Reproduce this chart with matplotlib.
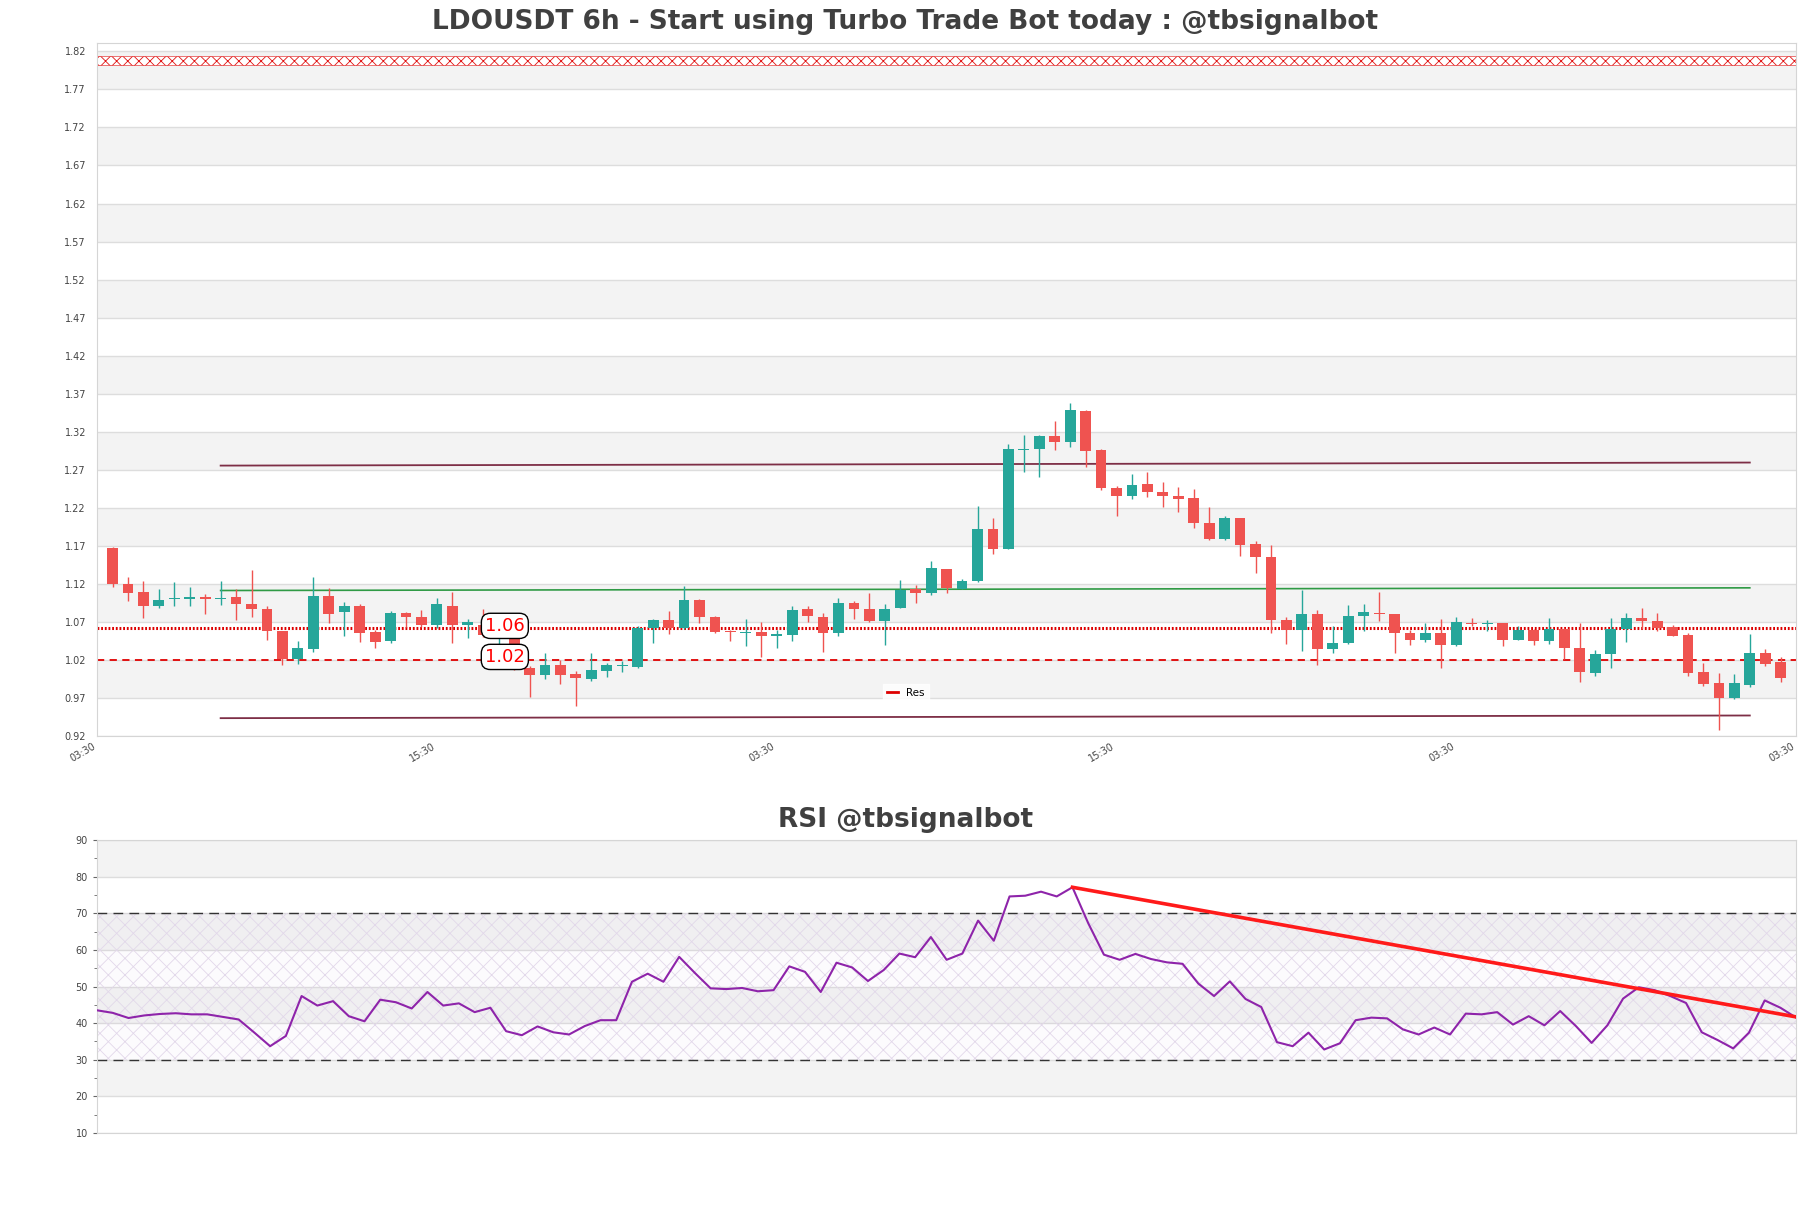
import numpy as np
import matplotlib.pyplot as plt
from matplotlib.lines import Line2D

plt.rcParams['font.family'] = ['DejaVu Sans']
plt.rcParams['hatch.linewidth'] = 0.6

# 6h candles, oldest first
opens = [1.167, 1.120, 1.109, 1.091, 1.100, 1.100, 1.103, 1.100, 1.103, 1.094,
         1.0875, 1.058, 1.0215, 1.035, 1.104, 1.083, 1.091, 1.0566, 1.045, 1.082,
         1.077, 1.0655, 1.0915, 1.0655, 1.066, 1.052, 1.058, 1.010, 1.0005, 1.0134,
         1.0015, 0.995, 1.006, 1.012, 1.011, 1.062, 1.073, 1.062, 1.0994, 1.0765,
         1.0584, 1.056, 1.057, 1.052, 1.053, 1.0875, 1.0765, 1.055, 1.0955, 1.0875,
         1.0707, 1.0884, 1.113, 1.1078, 1.139, 1.1138, 1.1235, 1.1915, 1.1656, 1.2955,
         1.2968, 1.3143, 1.3064, 1.3472, 1.2954, 1.2467, 1.2353, 1.2507, 1.241, 1.2358,
         1.2332, 1.2003, 1.1788, 1.206, 1.173, 1.156, 1.0726, 1.059, 1.081, 1.034,
         1.042, 1.0775, 1.0818, 1.081, 1.056, 1.0468, 1.056, 1.0393, 1.069, 1.067,
         1.069, 1.0468, 1.0597, 1.0443, 1.061, 1.0354, 1.0028, 1.0284, 1.061, 1.0756,
         1.0712, 1.0632, 1.0531, 1.0037, 0.9896, 0.9702, 0.9873, 1.0293, 1.0173]
highs = [1.169, 1.129, 1.124, 1.113, 1.123, 1.116, 1.107, 1.124, 1.113, 1.138,
         1.091, 1.058, 1.045, 1.129, 1.114, 1.096, 1.094, 1.060, 1.084, 1.083,
         1.086, 1.102, 1.109, 1.074, 1.087, 1.062, 1.060, 1.012, 1.029, 1.020,
         1.005, 1.029, 1.0156, 1.019, 1.0646, 1.074, 1.084, 1.1175, 1.1007, 1.078,
         1.059, 1.0743, 1.070, 1.060, 1.091, 1.091, 1.0822, 1.102, 1.0976, 1.1074,
         1.094, 1.125, 1.1184, 1.150, 1.140, 1.127, 1.223, 1.206, 1.3033, 1.3152,
         1.3156, 1.3336, 1.3573, 1.348, 1.297, 1.249, 1.264, 1.2674, 1.2542, 1.2476,
         1.245, 1.2213, 1.209, 1.207, 1.176, 1.1713, 1.0766, 1.1117, 1.0853, 1.065,
         1.0928, 1.094, 1.109, 1.081, 1.060, 1.0687, 1.074, 1.0766, 1.0748, 1.073,
         1.069, 1.065, 1.061, 1.0756, 1.062, 1.0685, 1.0332, 1.0756, 1.0818, 1.0888,
         1.0818, 1.0654, 1.0557, 1.016, 1.0028, 1.0015, 1.0544, 1.0346, 1.0244]
lows = [1.116, 1.098, 1.075, 1.088, 1.091, 1.091, 1.081, 1.092, 1.072, 1.077,
        1.046, 1.014, 1.015, 1.030, 1.069, 1.052, 1.043, 1.036, 1.042, 1.063,
        1.063, 1.062, 1.042, 1.049, 1.050, 1.040, 1.007, 0.9715, 0.995, 0.989,
        0.9596, 0.992, 0.998, 1.0037, 1.0094, 1.042, 1.0535, 1.061, 1.068, 1.0557,
        1.0443, 1.039, 1.0235, 1.036, 1.0443, 1.0694, 1.031, 1.052, 1.0734, 1.070,
        1.0403, 1.088, 1.095, 1.105, 1.108, 1.113, 1.122, 1.159, 1.1656, 1.267,
        1.2603, 1.2959, 1.300, 1.274, 1.2432, 1.209, 1.231, 1.2336, 1.2209, 1.2147,
        1.1932, 1.1775, 1.178, 1.1564, 1.1345, 1.0555, 1.041, 1.0314, 1.013, 1.0288,
        1.041, 1.0577, 1.0718, 1.0288, 1.040, 1.0432, 1.009, 1.038, 1.0647, 1.058,
        1.039, 1.046, 1.0403, 1.0412, 1.0213, 0.9904, 0.9984, 1.0098, 1.0434, 1.061,
        1.058, 1.051, 0.9993, 0.986, 0.9278, 0.969, 0.985, 1.0125, 0.9904]
closes = [1.120, 1.108, 1.091, 1.099, 1.102, 1.103, 1.100, 1.101, 1.093, 1.087,
          1.0575, 1.021, 1.036, 1.104, 1.081, 1.091, 1.056, 1.044, 1.082, 1.076,
          1.0655, 1.093, 1.0655, 1.070, 1.053, 1.058, 1.009, 1.0005, 1.0134, 1.0005,
          0.9966, 1.007, 1.0134, 1.014, 1.062, 1.073, 1.062, 1.0994, 1.076, 1.0566,
          1.0562, 1.057, 1.052, 1.0544, 1.086, 1.0774, 1.055, 1.0955, 1.0866, 1.0707,
          1.0875, 1.1118, 1.108, 1.1404, 1.114, 1.1244, 1.1915, 1.1656, 1.2968, 1.297,
          1.3143, 1.3064, 1.348, 1.2946, 1.2454, 1.2353, 1.2494, 1.2406, 1.2353, 1.231,
          1.1998, 1.1788, 1.2068, 1.1709, 1.155, 1.0722, 1.059, 1.081, 1.034, 1.0428,
          1.0783, 1.0832, 1.080, 1.056, 1.0468, 1.056, 1.0393, 1.0696, 1.067, 1.069,
          1.0468, 1.0597, 1.0443, 1.061, 1.0354, 1.0046, 1.028, 1.061, 1.0756, 1.0707,
          1.0623, 1.0518, 1.0028, 0.9887, 0.9702, 0.9896, 1.0293, 1.0151, 0.9966]

rsi = [43.5, 42.8, 41.4, 42.1, 42.5, 42.7, 42.4, 42.4, 41.7, 41.0,
       37.4, 33.7, 36.5, 47.4, 44.8, 46.0, 41.9, 40.5, 46.4, 45.7,
       44.0, 48.5, 44.8, 45.4, 43.0, 44.2, 37.8, 36.7, 39.1, 37.5,
       36.9, 39.2, 40.8, 40.8, 51.3, 53.5, 51.3, 58.1, 53.7, 49.5,
       49.3, 49.6, 48.7, 49.0, 55.5, 54.0, 48.5, 56.5, 55.2, 51.5,
       54.5, 59.0, 58.0, 63.5, 57.3, 59.0, 68.0, 62.5, 74.6, 74.8,
       75.9, 74.6, 77.1, 67.3, 58.7, 57.3, 58.9, 57.5, 56.6, 56.2,
       50.8, 47.4, 51.4, 46.6, 44.4, 34.8, 33.7, 37.4, 32.8, 34.5,
       40.8, 41.5, 41.3, 38.3, 36.9, 38.8, 36.9, 42.6, 42.4, 43.0,
       39.6, 41.9, 39.4, 43.3, 39.2, 34.6, 39.4, 46.7, 49.8, 49.0,
       47.4, 45.5, 37.5, 35.4, 33.1, 37.4, 46.2, 44.2, 41.5]

x_tick_labels = ['03:30', '15:30', '03:30', '15:30', '03:30', '03:30']

res_level = 1.062
sup_level = 1.02
res_label = '1.06'
sup_label = '1.02'
zone_low, zone_high = 1.8015, 1.8135

channel_x = [7, 106]
upper_y = [1.2755, 1.2795]
middle_y = [1.1113, 1.1148]
lower_y = [0.9435, 0.947]

trend_x = [62, 108]
trend_y = [77.1, 41.7]

title = 'LDOUSDT 6h - Start using Turbo Trade Bot today : @tbsignalbot'
rsi_title = 'RSI @tbsignalbot'

UP = '#26a69a'
DOWN = '#ef5350'
BAND = '#f3f3f3'
GRID = '#dddddd'
TXT = '#444444'

o = np.array(opens)
h = np.array(highs)
l = np.array(lows)
c = np.array(closes)
n = len(c)
idx = np.arange(n)
colors = np.where(c >= o, UP, DOWN)

fig = plt.figure(figsize=(18.11, 12.08), dpi=100)

# ---- price panel ----
ax = fig.add_axes([0.0536, 0.3907, 0.9382, 0.5737])
ax.set_xlim(-1, n)
ax.set_ylim(0.92, 1.831)
yt = np.round(np.arange(0.92, 1.8201, 0.05), 2)
for lo in yt[1::2]:
    ax.axhspan(lo, lo + 0.05, color=BAND, lw=0, zorder=0)
ax.set_yticks(yt)
ax.set_yticklabels([f'{v:.2f}' for v in yt])
ax.grid(axis='y', color=GRID, lw=1, zorder=0.5)
ax.set_axisbelow(True)

# hatched zone near the top
ax.fill_between([-1, n], zone_low, zone_high, facecolor='white',
                edgecolor='#e01010', hatch='xxx', lw=0.4, zorder=1)

ax.vlines(idx, l, h, colors=colors, lw=1, zorder=3)
ax.bar(idx, np.maximum(np.abs(c - o), 0.0008), bottom=np.minimum(o, c),
       width=0.7, color=colors, zorder=4)

ax.plot(channel_x, upper_y, color='#7d2e46', lw=1.3, zorder=2)
ax.plot(channel_x, lower_y, color='#7d2e46', lw=1.3, zorder=2)
ax.plot(channel_x, middle_y, color='#2f9a45', lw=1.2, zorder=2)

ax.axhline(res_level, color='#dd0000', lw=2.2, ls=(0, (0.6, 0.6)), zorder=2.5)
ax.axhline(sup_level, color='#e00000', lw=1.3, ls=(0, (4, 3)), zorder=2.5)

box = dict(boxstyle='round,pad=0.2,rounding_size=0.5', fc='white', ec='black', lw=1)
ax.text(25.4, 1.0648, res_label, ha='center', va='center', color='red',
        fontsize=13, bbox=box, zorder=6)
ax.text(25.4, 1.024, sup_label, ha='center', va='center', color='red',
        fontsize=13, bbox=box, zorder=6)

leg = ax.legend(handles=[Line2D([], [], color='#dd0000', lw=2)], labels=['Res'],
                loc='center', bbox_to_anchor=(0.476, 0.062), fontsize=7.5,
                handlelength=1.0, fancybox=False, borderpad=0.4)
leg.get_frame().set_edgecolor('white')
leg.get_frame().set_facecolor('white')

ax.set_xticks(np.linspace(-1, n, 6))
ax.set_xticklabels(x_tick_labels, rotation=30, ha='right')
ax.tick_params(axis='both', length=0, labelsize=7, labelcolor=TXT)
ax.tick_params(axis='y', pad=8)
for s in ax.spines.values():
    s.set_color('#d5d5d5')

# ---- RSI panel ----
ax2 = fig.add_axes([0.0536, 0.0621, 0.9382, 0.2425])
ax2.set_xlim(0, n - 1)
ax2.set_ylim(10, 90)
for lo in [20, 40, 60, 80]:
    ax2.axhspan(lo, lo + 10, color=BAND, lw=0, zorder=0)
ax2.set_yticks(np.arange(10, 91, 10))
ax2.set_yticks(np.arange(15, 90, 10), minor=True)
ax2.grid(axis='y', which='major', color=GRID, lw=1, zorder=0.5)
ax2.set_axisbelow(True)
ax2.fill_between([0, n - 1], 30, 70, facecolor=(0.55, 0.35, 0.7, 0.025),
                 edgecolor='#e2d8ea', hatch='xx', lw=0, zorder=1)
ax2.axhline(70, color='#333333', lw=1, ls=(0, (7, 4.5)), zorder=2)
ax2.axhline(30, color='#333333', lw=1, ls=(0, (7, 4.5)), zorder=2)
ax2.plot(idx, rsi, color='#8e24aa', lw=1.5, zorder=4)
ax2.plot(trend_x, trend_y, color='#ff1a1a', lw=2.6, zorder=5)
ax2.set_xticks([])
ax2.tick_params(axis='y', which='major', length=3, labelsize=7, labelcolor=TXT,
                color='#666666')
ax2.tick_params(axis='y', which='minor', length=2, color='#666666')
for s in ax2.spines.values():
    s.set_color('#d5d5d5')

fig.text(0.5, 0.9818, title, ha='center', va='center', fontsize=19,
         fontweight='bold', color='#404040')
fig.text(0.5, 0.3212, rsi_title, ha='center', va='center', fontsize=19,
         fontweight='bold', color='#404040')

fig.savefig('out.png', dpi=100)
